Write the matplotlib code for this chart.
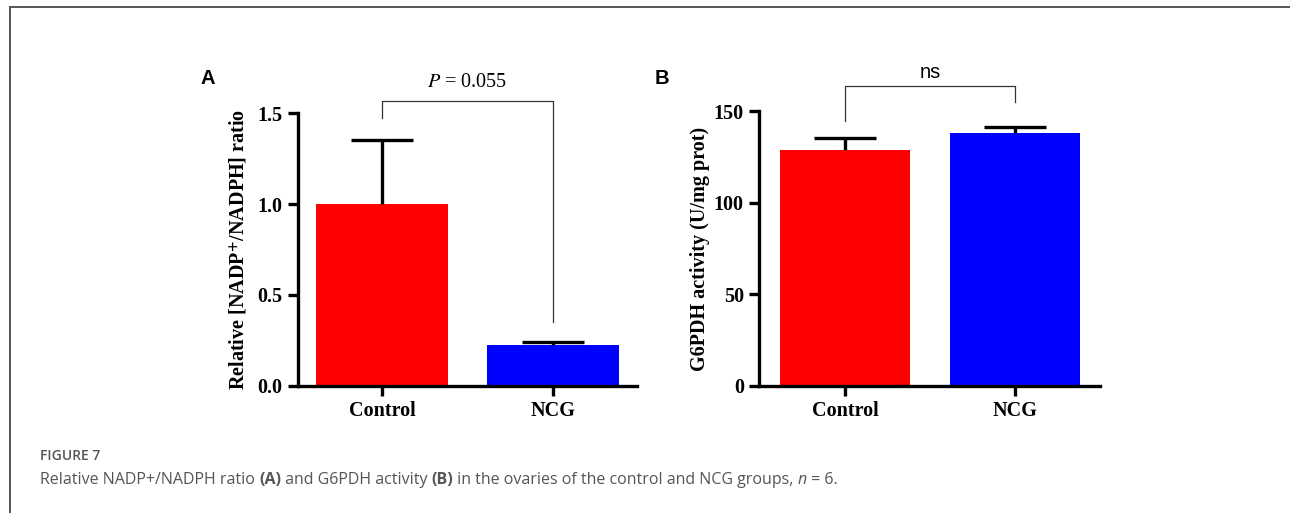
import numpy
from matplotlib import pyplot

pyplot.rcParams['mathtext.fontset'] = 'stix'

# data
groups = ['Control', 'NCG']
ratio_mean = [1.0, 0.225]
ratio_err = [0.35, 0.015]
g6pdh_mean = [128.6, 137.9]
g6pdh_err = [6.5, 3.2]
ratio_ticks = [0.0, 0.5, 1.0, 1.5]
g6pdh_ticks = [0, 50, 100, 150]
colors = ['#ff0000', '#0000ff']

serif = 'Liberation Serif'
fig = pyplot.figure(figsize=(12.9, 5.13), dpi=100)

# grey frame at left/top
fig.add_artist(pyplot.Line2D([10 / 1290, 10 / 1290], [0, 1 - 7 / 513], color='#555555', lw=1.4,
                             transform=fig.transFigure))
fig.add_artist(pyplot.Line2D([10 / 1290, 1], [1 - 7 / 513, 1 - 7 / 513], color='#555555', lw=1.4,
                             transform=fig.transFigure))


def bar_panel(rect, xlim, means, errs, ticks, ticklabels, ylabel, top):
    ax = fig.add_axes(rect)
    x = numpy.arange(len(means))
    ax.bar(x, means, width=0.77, color=colors, zorder=2)
    eb = ax.errorbar(x, means, yerr=[[0] * len(errs), errs], fmt='none', ecolor='black',
                     elinewidth=2.4, capsize=22.5, capthick=2.4, zorder=3)
    # only the upper cap, like Prism
    eb[1][0].remove()
    ax.set_xlim(xlim)
    ax.set_ylim(0, top)
    ax.set_yticks(ticks)
    ax.set_yticklabels(ticklabels)
    ax.set_xticks(x)
    ax.set_xticklabels(groups)
    for s in ['top', 'right']:
        ax.spines[s].set_visible(False)
    for s in ['left', 'bottom']:
        ax.spines[s].set_linewidth(2.4)
    ax.tick_params(width=2.4, length=7, labelsize=14.5, pad=4)
    for lab in ax.get_xticklabels() + ax.get_yticklabels():
        lab.set_fontfamily(serif)
        lab.set_fontweight('bold')
    ax.set_ylabel(ylabel, fontfamily=serif, fontweight='bold', fontsize=14.5, labelpad=6)
    return ax


# panel A
axA = bar_panel([0.231, 0.2476, 0.2628, 0.5321], (-0.49, 1.49), ratio_mean, ratio_err,
                ratio_ticks, ['0.0', '0.5', '1.0', '1.5'],
                r'Relative [NADP$^{\mathbf{+}}$/NADPH] ratio', 1.5)
axA.plot([0, 0, 1, 1], [1.47, 1.566, 1.566, 0.35], color='#333333', lw=0.9, clip_on=False)
axA.text(0.5, 1.67, r'$P$ = 0.055', ha='center', va='center', fontfamily=serif, fontsize=14.5)
fig.text(208 / 1290, 1 - 78 / 513, 'A', fontfamily='Liberation Sans', fontweight='bold',
         fontsize=14.5, ha='center', va='center')

# panel B
axB = bar_panel([0.5884, 0.2476, 0.2643, 0.536], (-0.506, 1.5), g6pdh_mean, g6pdh_err,
                g6pdh_ticks, ['0', '50', '100', '150'],
                'G6PDH activity (U/mg prot)', 150)
axB.yaxis.set_label_coords(-0.145, 0.5)
axB.plot([0, 0, 1, 1], [144.4, 163.5, 163.5, 154.8], color='#333333', lw=0.9, clip_on=False)
axB.text(0.5, 171, 'ns', ha='center', va='center', fontfamily='Liberation Sans', fontsize=14.5)
fig.text(662 / 1290, 1 - 78 / 513, 'B', fontfamily='Liberation Sans', fontweight='bold',
         fontsize=14.5, ha='center', va='center')

# caption
cap = 'Open Sans'
fig.text(40 / 1290, 1 - 456 / 513, 'FIGURE 7', fontfamily=cap, fontsize=10, color='#555555',
         fontweight='semibold', va='center')
pieces = [('(A)', 'bold', 'normal'),
          (' and G6PDH activity ', 'normal', 'normal'),
          ('(B)', 'bold', 'normal'),
          (' in the ovaries of the control and NCG groups, ', 'normal', 'normal'),
          ('n', 'normal', 'italic'),
          (' = 6.', 'normal', 'normal')]
prev = fig.text(40 / 1290, 1 - 484 / 513, 'Relative NADP+/NADPH ratio ', fontfamily=cap,
                fontsize=11.5, color='#555555', va='baseline')
for txt, w, st in pieces:
    prev = pyplot.annotate(txt, xy=(1, 0), xycoords=prev, va='bottom', ha='left',
                           fontfamily=cap, fontsize=11.5, color='#555555', fontweight=w,
                           fontstyle=st, annotation_clip=False)

fig.savefig('out.png', dpi=100)
